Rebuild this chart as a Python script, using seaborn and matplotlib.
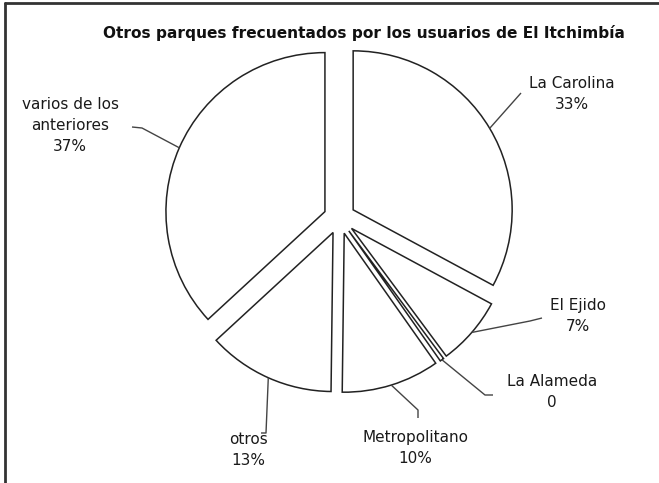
import numpy as np
import matplotlib
matplotlib.use("Agg")
import matplotlib.pyplot as plt
import seaborn as sns

# data
parques = ["La Carolina", "El Ejido", "La Alameda", "Metropolitano", "otros",
           "varios de los\nanteriores"]
porcentajes = [33, 7, 0.4, 10, 13, 37]
etiquetas_pct = ["33%", "7%", "0", "10%", "13%", "37%"]

titulo = "Otros parques frecuentados por los usuarios de El Itchimbía"

sns.set_theme(style="white")
plt.rcParams["font.family"] = ["DejaVu Sans"]

W, H = 659, 483
fig = plt.figure(figsize=(W / 100, H / 100), dpi=100)
ax = fig.add_axes([0, 0, 1, 1])

# pixel -> data helpers (pie centre at px (339.5, 218), radius 159 px)
cx, cy, s = 339.5, 218, 159.0


def px(x, y):
    return (x - cx) / s, (cy - y) / s


wedges, _ = ax.pie(
    porcentajes,
    startangle=90,
    counterclock=False,
    explode=[0.1] * len(porcentajes),
    radius=1,
    wedgeprops=dict(facecolor="white", edgecolor="#222222", linewidth=1.1),
)
ax.set_aspect("auto")
ax.set_xlim(px(0, 0)[0], px(W, 0)[0])
ax.set_ylim(px(0, H)[1], px(0, 0)[1])
ax.axis("off")

# label positions (px) and leader-line points near the label
label_pos = [(572, 94), (578, 316), (552, 392), (415, 448), (248, 450), (70, 126)]
leader_pts = [
    [(521, 93)],
    [(530, 321), (542, 318)],
    [(485, 395), (493, 395)],
    [(418, 410), (418, 418)],
    [(266, 433), (261, 433)],
    [(142, 128), (132, 127)],
]

for w, name, pct, lp, pts in zip(wedges, parques, etiquetas_pct, label_pos, leader_pts):
    ang = np.deg2rad((w.theta1 + w.theta2) / 2)
    tip = (w.center[0] + w.r * np.cos(ang), w.center[1] + w.r * np.sin(ang))
    xs = [tip[0]] + [px(*p)[0] for p in pts]
    ys = [tip[1]] + [px(*p)[1] for p in pts]
    ax.plot(xs, ys, color="#444444", lw=1.0, solid_capstyle="butt")
    tx, ty = px(*lp)
    ax.text(tx, ty, f"{name}\n{pct}", ha="center", va="center", fontsize=11,
            linespacing=1.5, color="#1a1a1a")

fig.text(364 / W, 1 - 33 / H, titulo, ha="center", va="center",
         fontsize=11.1, fontweight="bold", color="#111111")

# frame of the cropped chart (top and left edges only)
fig.add_artist(plt.Line2D([5 / W, 1], [1 - 3 / H, 1 - 3 / H], transform=fig.transFigure,
                          color="#333333", lw=2))
fig.add_artist(plt.Line2D([5 / W, 5 / W], [0, 1 - 3 / H], transform=fig.transFigure,
                          color="#333333", lw=2))

fig.savefig("out.png", dpi=100, facecolor="white")
